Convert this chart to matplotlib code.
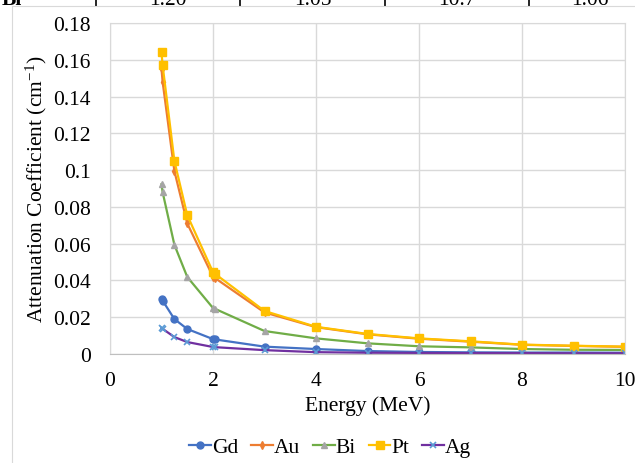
import matplotlib
matplotlib.use("Agg")
import matplotlib.pyplot as plt
from matplotlib.lines import Line2D

# Photon energies (MeV)
energy = [1.0, 1.022, 1.25, 1.5, 2.0, 2.044, 3, 4, 5, 6, 7, 8, 9, 10]

# Attenuation coefficients (cm^-1)
gd = [0.0299, 0.0290, 0.0190, 0.0136, 0.0081, 0.0079, 0.0040, 0.0027, 0.0016, 0.0011, 0.0009, 0.0008, 0.0008, 0.0007]
au = [0.155, 0.148, 0.0995, 0.0710, 0.0420, 0.0412, 0.0226, 0.0146, 0.0107, 0.0083, 0.0067, 0.0050, 0.0044, 0.0039]
bi = [0.0923, 0.0880, 0.0594, 0.0419, 0.0250, 0.0245, 0.0125, 0.0085, 0.0058, 0.0042, 0.0036, 0.0027, 0.0023, 0.0022]
pt = [0.164, 0.157, 0.105, 0.0755, 0.0445, 0.0435, 0.0234, 0.0148, 0.0109, 0.0085, 0.0069, 0.0051, 0.0045, 0.0040]
ag = [0.0141, 0.0137, 0.0092, 0.0065, 0.0038, 0.0037, 0.0021, 0.0010, 0.0007, 0.0006, 0.0005, 0.0005, 0.0004, 0.0004]

# table row peeking in at the top of the page
table_cells = ["Bi", "1.20", "1.05", "10.7", "1.06"]

plt.rcParams['font.family'] = ['Liberation Serif', 'DejaVu Serif']
plt.rcParams['mathtext.fontset'] = 'custom'
plt.rcParams['mathtext.rm'] = 'Liberation Serif'
plt.rcParams['mathtext.it'] = 'Liberation Serif:italic'
FS = 15.5

fig = plt.figure(figsize=(6.35, 4.64), dpi=100)
W, H = 635, 464

# --- cut-off table strip at the top ---
cell_edges = [0, 96, 240, 385, 529, 650]
for i, txt in enumerate(table_cells):
    if i == 0:
        fig.text(2 / W, 1 - 5 / H, txt, fontsize=FS, ha='left', va='baseline', fontweight='bold')
    else:
        cx = (cell_edges[i] + cell_edges[i + 1]) / 2
        fig.text(cx / W, 1 - 5 / H, txt, fontsize=FS, ha='center', va='baseline')
for xe in cell_edges[1:5]:
    fig.add_artist(Line2D([xe / W, xe / W], [1 - 7 / H, 1.0], color='black', lw=1.2))
fig.add_artist(Line2D([12 / W, 1.0], [1 - 7 / H, 1 - 7 / H], color='#D9D9D9', lw=0.8))
# chart border
fig.add_artist(Line2D([12 / W, 12 / W], [0, 1 - 7 / H], color='#D9D9D9', lw=0.8))

ax = fig.add_axes([110 / W, (H - 355) / H, 515 / W, 331 / H])

ax.plot(energy, gd, color='#4472C4', lw=1.6, marker='o', ms=5, mfc='#4472C4', mec='#4472C4', label='Gd')
ax.plot(energy, au, color='#ED7D31', lw=1.6, marker='d', ms=4, mfc='#ED7D31', mec='#ED7D31', label='Au')
ax.plot(energy, bi, color='#70AD47', lw=1.6, marker='^', ms=5, mfc='#A5A5A5', mec='#A5A5A5', label='Bi')
ax.plot(energy, pt, color='#FFC000', lw=1.6, marker='s', ms=5.5, mfc='#FFC000', mec='#FFC000', label='Pt')
ax.plot(energy, ag, color='#7030A0', lw=1.6, marker='x', ms=5, mfc='#5B9BD5', mec='#5B9BD5', mew=1.2, label='Ag')

ax.set_xlim(0, 10)
ax.set_ylim(0, 0.18)
ax.set_xticks([0, 2, 4, 6, 8, 10])
ax.set_yticks([0, 0.02, 0.04, 0.06, 0.08, 0.1, 0.12, 0.14, 0.16, 0.18])
ax.set_yticklabels(['0', '0.02', '0.04', '0.06', '0.08', '0.1', '0.12', '0.14', '0.16', '0.18'])
ax.grid(True, color='#D9D9D9', lw=1.0)
ax.set_axisbelow(True)
for s in ax.spines.values():
    s.set_color('#D9D9D9')
ax.spines['bottom'].set_color('#BFBFBF')
ax.tick_params(length=0, labelsize=FS, pad=14)
ax.tick_params(axis='x', pad=12)

ax.set_xlabel('Energy (MeV)', fontsize=FS, labelpad=4)
ax.set_ylabel('Attenuation Coefficient (cm$^{-1}$)', fontsize=FS, labelpad=3)

fig.legend(*ax.get_legend_handles_labels(), loc='center', bbox_to_anchor=(0.52, 16 / H), ncol=5,
           frameon=False, fontsize=FS, handlelength=1.0, handletextpad=0.05, columnspacing=0.6,
           borderpad=0.1)

fig.savefig('out.png', dpi=100)
